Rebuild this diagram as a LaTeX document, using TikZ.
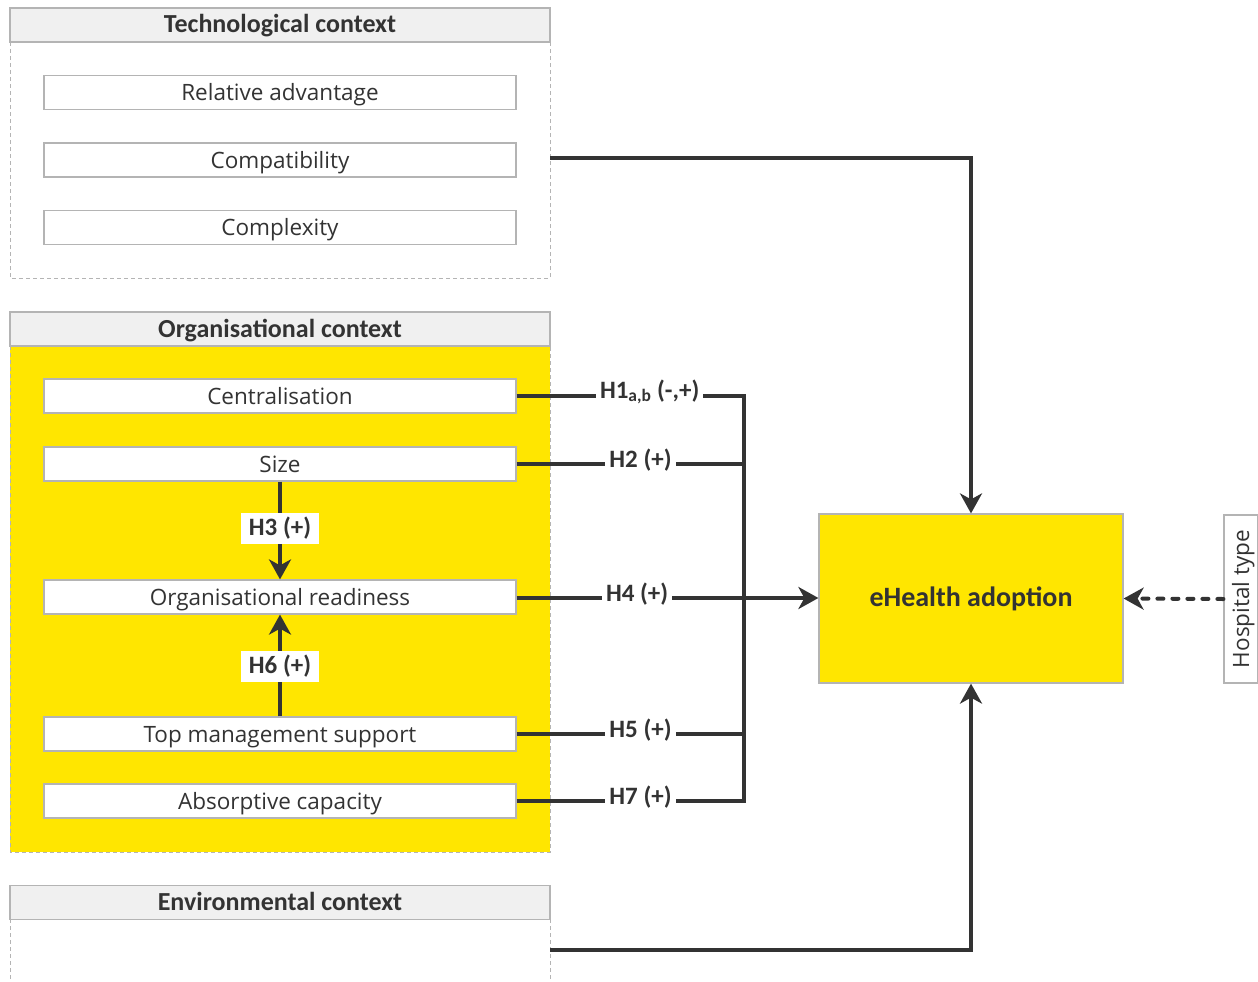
\documentclass[tikz,border=0pt]{standalone}
\usepackage{fontspec}
\setmainfont{Open Sans}
\newfontfamily\hfont{Carlito}
\usetikzlibrary{arrows.meta}
\definecolor{ctxyellow}{HTML}{FFE600}
\definecolor{frame}{HTML}{B4B4B4}
\definecolor{headfill}{HTML}{F0F0F0}
\definecolor{ink}{HTML}{333333}
\tikzset{
  headbox/.style={draw=frame, line width=1.2pt, fill=headfill, text=ink,
    minimum width=540pt, minimum height=34pt, inner sep=0pt,
    text height=16pt, text depth=0pt,
    font=\hfont\bfseries\fontsize{26}{30}\selectfont},
  itembox/.style={draw=frame, line width=1.2pt, fill=white, text=ink,
    minimum width=472pt, minimum height=34pt, inner sep=0pt,
    text height=16pt, text depth=0pt,
    font=\fontsize{22.5}{26}\selectfont},
  bodyline/.style={draw=frame, line width=1pt, dash pattern=on 4pt off 3pt},
  conn/.style={draw=ink, line width=4pt},
  arr/.style={conn, -{Stealth[length=20pt, width=22pt, inset=6pt]}},
  hlabel/.style={fill=white, text=ink, inner sep=4pt,
    font=\hfont\bfseries\fontsize{25}{28}\selectfont},
}
\begin{document}
\begin{tikzpicture}[x=1pt, y=-1pt]
\useasboundingbox (0,0) rectangle (1258,982);

% Technological context
\draw[bodyline] (10,42) -- (10,278) -- (550,278) -- (550,42);
\node[headbox] (tech) at (280,25) {Technological context};
\node[itembox] (rel) at (280,92.5) {Relative advantage};
\node[itembox] (comp) at (280,160) {Compatibility};
\node[itembox] (cplx) at (280,227.5) {Complexity};
\coordinate (techout) at (550,158);

% Organisational context
\fill[ctxyellow] (10,346) rectangle (550,852);
\draw[bodyline] (10,346) -- (10,852) -- (550,852) -- (550,346);
\node[headbox] (org) at (280,329) {Organisational context};
\node[itembox] (cent) at (280,396) {Centralisation};
\node[itembox] (size) at (280,464) {Size};
\node[itembox] (ready) at (280,597) {Organisational readiness};
\node[itembox] (top) at (280,734) {Top management support};
\node[itembox] (abs) at (280,801) {Absorptive capacity};

% Environmental context
\draw[bodyline] (10,919) -- (10,982);
\draw[bodyline] (550,919) -- (550,982);
\node[headbox] (env) at (280,902.5) {Environmental context};
\coordinate (envout) at (550,950);

% Outcome and moderator
\node[draw=frame, line width=1.2pt, fill=ctxyellow, text=ink,
  minimum width=304pt, minimum height=169pt, inner sep=0pt,
  font=\hfont\bfseries\fontsize{28}{32}\selectfont] (ehealth) at (971,598.5) {eHealth adoption};
\node[draw=frame, line width=1.2pt, fill=white, text=ink, rotate=90,
  minimum width=168pt, minimum height=34pt, inner sep=0pt,
  text height=16pt, text depth=0pt,
  font=\fontsize{22.5}{26}\selectfont] (hosp) at (1241,599) {Hospital type};

% Bus collecting the organisational hypotheses
\coordinate (b1) at (746,396);
\coordinate (b2) at (746,464);
\coordinate (b4) at (744,598);
\coordinate (b5) at (746,734);
\coordinate (b7) at (746,801);
\draw[conn] (744,394) -- (744,803);

\draw[conn] (cent.east) -- node[hlabel, pos=0.58, yshift=4pt] {H1\textsubscript{a,b} (-,+)} (b1);
\draw[conn] (size.east) -- node[hlabel, pos=0.54, yshift=4pt] {H2 (+)} (b2);
\draw[conn] (ready.east |- b4) -- node[hlabel, pos=0.53, yshift=4pt] {H4 (+)} (b4);
\draw[conn] (top.east) -- node[hlabel, pos=0.54, yshift=4pt] {H5 (+)} (b5);
\draw[conn] (abs.east) -- node[hlabel, pos=0.54, yshift=4pt] {H7 (+)} (b7);
\draw[arr] (b4) -- (b4 -| ehealth.west);

% Paths inside the organisational context
\draw[arr] (size.south) -- node[hlabel, pos=0.48, inner xsep=8pt] {H3 (+)} (ready.north);
\draw[arr] (top.north) -- node[hlabel, pos=0.49, inner xsep=8pt] {H6 (+)} (ready.south);

% Technological and environmental paths
\draw[arr] (techout) -| (ehealth.north);
\draw[arr] (envout) -| (ehealth.south);

% Moderator
\draw[draw=ink, line width=4pt, line cap=round, dash pattern=on 6pt off 9pt,
  -{Stealth[length=20pt, width=22pt, inset=6pt]}] (hosp.north) -- (ehealth.east);
\end{tikzpicture}
\end{document}
